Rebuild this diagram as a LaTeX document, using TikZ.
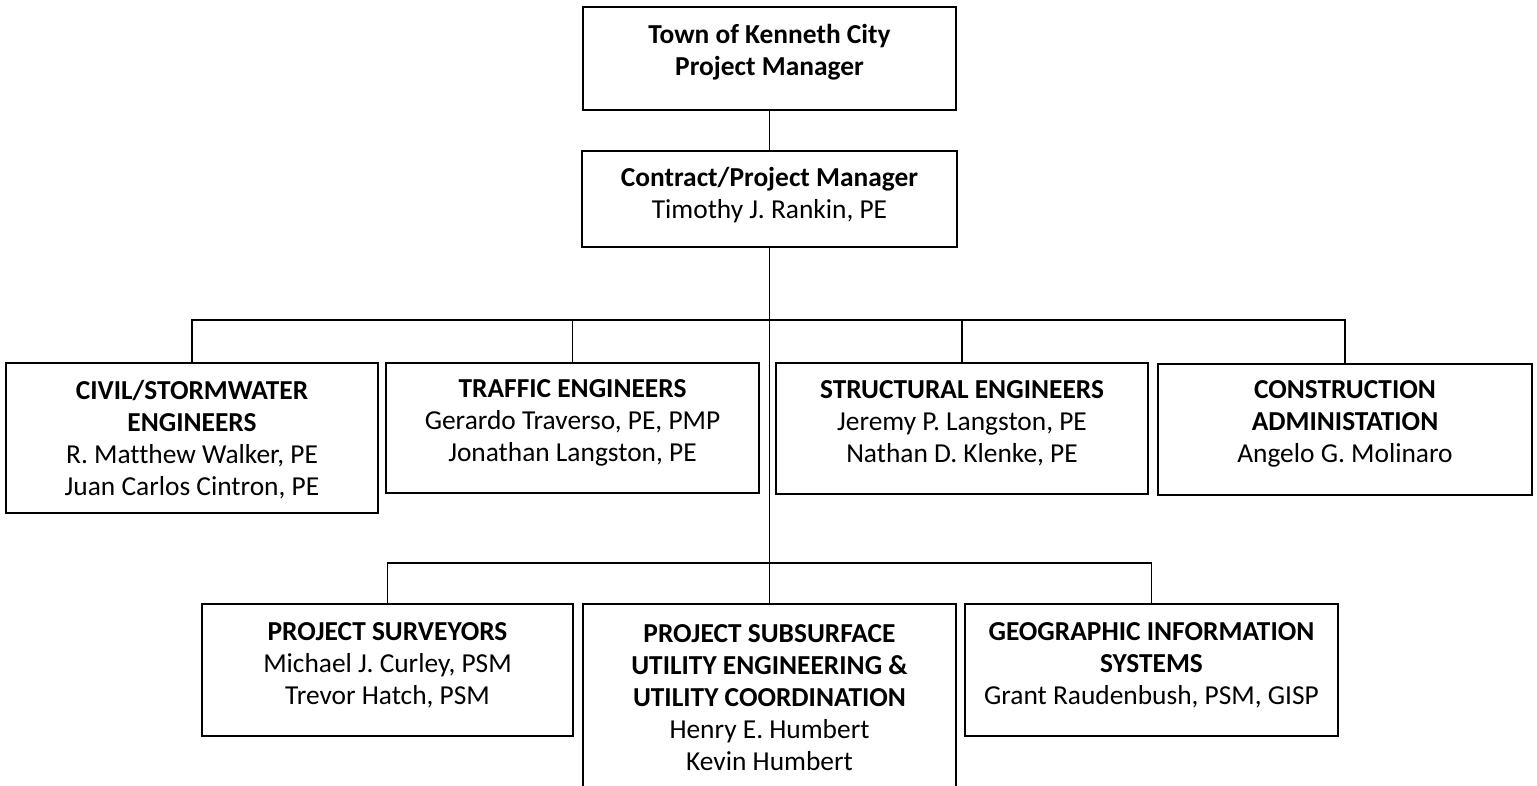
\documentclass[tikz,border=0pt]{standalone}
\usepackage{fontspec}
\setmainfont{Carlito}[Ligatures=CommonOff]
\begin{document}
\begin{tikzpicture}[x=1pt,y=-1pt,
  box/.style={draw=black, line width=1.3pt, inner sep=0pt, outer sep=0pt, fill=none},
  txt/.style={align=center, inner sep=0pt, font=\fontsize{27.4}{32}\selectfont, text=black},
  conn/.style={draw=black, line width=1.3pt}]
\clip (0,0) rectangle (1537,786);
\fill[white] (0,0) rectangle (1537,786);
% boxes
\node[box, minimum width=373pt, minimum height=103pt] (top) at (769.5,58.5) {};
\node[box, minimum width=375pt, minimum height=96pt] (cpm) at (769.5,199) {};
\node[box, minimum width=372pt, minimum height=150pt] (civil) at (192,438) {};
\node[box, minimum width=373pt, minimum height=130pt] (traffic) at (572.5,428) {};
\node[box, minimum width=372pt, minimum height=131pt] (struct) at (962,428.5) {};
\node[box, minimum width=374pt, minimum height=131pt] (constr) at (1345,429.5) {};
\node[box, minimum width=371pt, minimum height=132pt] (surv) at (387.5,670) {};
\node[box, minimum width=373pt, minimum height=196pt] (mid) at (769.5,702) {};
\node[box, minimum width=373pt, minimum height=132pt] (gis) at (1151.5,670) {};
% texts
\node[txt] (topT) at (769.5,52) {\textbf{Town of Kenneth City}\\\textbf{Project Manager}};
\node[txt] (cpmT) at (769.5,195) {\textbf{Contract/Project Manager}\\Timothy J. Rankin, PE};
\node[txt] (civilT) at (192,440) {\textbf{CIVIL/STORMWATER}\\\textbf{ENGINEERS}\\R. Matthew Walker, PE\\Juan Carlos Cintron, PE};
\node[txt] (trafficT) at (572.5,423) {\textbf{TRAFFIC ENGINEERS}\\Gerardo Traverso, PE, PMP\\Jonathan Langston, PE};
\node[txt] (structT) at (962,423) {\textbf{STRUCTURAL ENGINEERS}\\Jeremy P. Langston, PE\\Nathan D. Klenke, PE};
\node[txt] (constrT) at (1345,424) {\textbf{CONSTRUCTION}\\\textbf{ADMINISTATION}\\Angelo G. Molinaro};
\node[txt] (survT) at (387.5,665) {\textbf{PROJECT SURVEYORS}\\Michael J. Curley, PSM\\Trevor Hatch, PSM};
\node[txt] (midT) at (769.5,698) {\textbf{PROJECT SUBSURFACE}\\\textbf{UTILITY ENGINEERING \&}\\\textbf{UTILITY COORDINATION}\\Henry E. Humbert\\Kevin Humbert};
\node[txt] (gisT) at (1151.5,665) {\textbf{GEOGRAPHIC INFORMATION}\\\textbf{SYSTEMS}\\Grant Raudenbush, PSM, GISP};
% connectors
\coordinate (bus1) at (768,320);
\coordinate (bus2) at (768,563);
\draw[conn] (top.south) -- (cpm.north);
\draw[conn] (cpm.south) -- (mid.north);
\draw[conn] (civil.north) |- (bus1) -| (constr.north);
\draw[conn] (traffic.north) |- (bus1);
\draw[conn] (struct.north) |- (bus1);
\draw[conn] (surv.north) |- (bus2) -| (gis.north);
\end{tikzpicture}
\end{document}
